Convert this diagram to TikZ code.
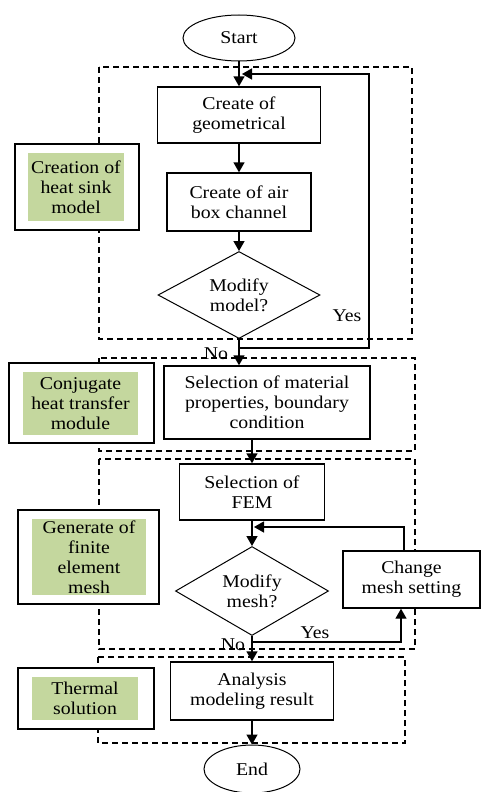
\documentclass[tikz,border=0pt]{standalone}
\usepackage{fontspec}
\setmainfont{Liberation Serif}[FakeStretch=1.1]
\usetikzlibrary{arrows.meta,shapes.geometric}
\definecolor{lblgreen}{RGB}{196,215,158}
\tikzset{
  proc/.style={draw, line width=1.4pt, fill=white, rectangle, align=center, inner sep=0pt},
  term/.style={draw, line width=1pt, ellipse, align=center, inner sep=0pt},
  decis/.style={draw, line width=1pt, diamond, aspect=1.86, align=center, inner sep=0pt},
  grp/.style={draw, line width=1.2pt, dash pattern=on 6pt off 4pt},
  lblout/.style={draw, line width=1.4pt, fill=white, rectangle, inner sep=0pt},
  lblin/.style={fill=lblgreen, rectangle, align=center, inner sep=0pt},
  conn/.style={line width=1.4pt, -{Triangle[width=11pt,length=10pt]}},
  tag/.style={inner sep=0pt}
}
\begin{document}
\begin{tikzpicture}[x=1pt,y=-1pt,font=\fontsize{18}{20}\selectfont]
\useasboundingbox (0,0) rectangle (481,792);
% dashed group boxes
\draw[grp] (99,67) rectangle (412,339);
\draw[grp] (99,358) rectangle (415,451);
\draw[grp] (99,459) rectangle (415,649);
\draw[grp] (98,657) rectangle (405,743);

% terminals
\node[term, minimum width=112, minimum height=46] (start) at (239,38) {Start};
\node[term, minimum width=96, minimum height=48] (end) at (252,769) {End};

% process boxes
\node[proc, minimum width=163, minimum height=56] (geo) at (239,115) {Create of\\geometrical};
\node[proc, minimum width=144, minimum height=58] (air) at (239,202) {Create of air\\box channel};
\node[decis, minimum width=162, minimum height=87] (d1) at (239,295) {Modify\\model?};
\node[proc, minimum width=206, minimum height=73] (mat) at (267,402.5) {Selection of material\\properties, boundary\\condition};
\node[proc, minimum width=145, minimum height=56] (fem) at (252,492) {Selection of\\FEM};
\node[decis, minimum width=153, minimum height=89] (d2) at (252,591) {Modify\\mesh?};
\node[proc, minimum width=137, minimum height=57] (chg) at (411.5,579.5) {Change\\mesh setting};
\node[proc, minimum width=163, minimum height=58] (ana) at (252,691) {Analysis\\modeling result};

% label boxes
\node[lblout, minimum width=124, minimum height=86] (l1o) at (77,187) {};
\node[lblin, minimum width=96, minimum height=68] (l1) at (76,187) {Creation of\\heat sink\\model};
\node[lblout, minimum width=145, minimum height=80] (l2o) at (81.5,403) {};
\node[lblin, minimum width=115, minimum height=63] (l2) at (80.5,403.5) {Conjugate\\heat transfer\\module};
\node[lblout, minimum width=141, minimum height=94] (l3o) at (88.5,557) {};
\node[lblin, minimum width=114, minimum height=76] (l3) at (89,557) {Generate of\\finite\\element\\mesh};
\node[lblout, minimum width=136, minimum height=61] (l4o) at (86,698.5) {};
\node[lblin, minimum width=106, minimum height=43] (l4) at (85,698.5) {Thermal\\solution};

% connectors
\coordinate (loopin) at (242,74);
\coordinate (loopc) at (369,348);
\coordinate (meshin) at (254,527);
\draw[conn] (start) -- (geo);
\draw[conn] (geo) -- (air);
\draw[conn] (air) -- (d1);
\draw[conn] (d1.south) -- (d1.south |- mat.north);
\draw[conn] (d1.south) |- (loopc) -- (loopc |- loopin) -- (loopin);
\draw[conn] (fem.north |- mat.south) -- (fem.north);
\draw[conn] (fem) -- (d2);
\draw[conn] ([xshift=-7.5pt]chg.north) |- (meshin);
\draw[conn] (d2.south) -- ++(0,6) -| ([xshift=-10.5pt]chg.south);
\draw[conn] (d2) -- (ana);
\draw[conn] (ana) -- (end);

% labels
\node[tag] (yes1) at (347,316) {Yes};
\node[tag] (no1) at (216,354) {No};
\node[tag] (yes2) at (315,633) {Yes};
\node[tag] (no2) at (233,645) {No};
\end{tikzpicture}
\end{document}
